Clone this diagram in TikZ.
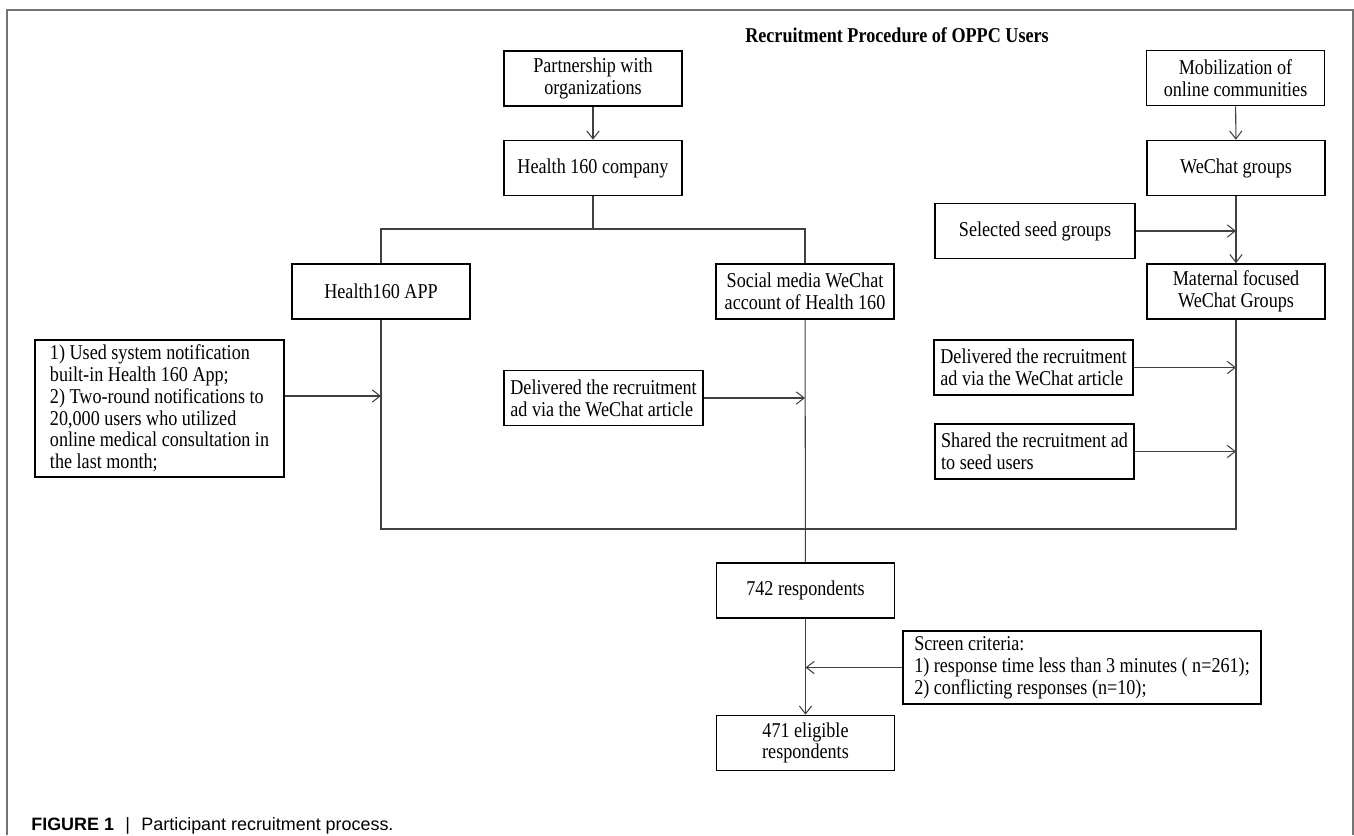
\documentclass[tikz,border=0pt]{standalone}
\usepackage{fontspec}
\setmainfont{Liberation Serif}[FakeStretch=0.86]
\setsansfont{Liberation Sans}
\usetikzlibrary{arrows.meta}

\begin{document}
\begin{tikzpicture}[x=0.02cm,y=-0.02cm,
  font=\fontsize{12}{12.4}\selectfont,
  box/.style={draw,line width=0.9pt,minimum width=3.56cm,minimum height=1.1cm,align=center,inner sep=2pt},
  widebox/.style={box,minimum width=4cm},
  note/.style={draw,line width=0.9pt,minimum height=1.1cm,align=left,inner xsep=3pt,inner ysep=3pt},
  link/.style={draw=black!75,line width=0.6pt},
  arr/.style={link,-{Straight Barb[length=4.5pt,width=7pt]}}]
	\useasboundingbox (0,0) rectangle (1354,835);
	\draw[black!55,line width=0.6pt] (7,835) -- (7,10) -- (1353,10) -- (1353,835);

	\node[font=\fontsize{12}{12.4}\selectfont\bfseries] (title) at (897,35) {Recruitment Procedure of OPPC Users};

	% company branch
	\node[box] (partner) at (593,78.5) {Partnership with\\organizations};
	\node[box] (company) at (593,168) {Health 160 company};
	\node[box] (app) at (381,291.5) {Health160 APP};
	\node[box] (social) at (805,291.5) {Social media WeChat\\account of Health 160};
	\node[note,minimum width=4.98cm] (notif) at (159.5,408.5) {1) Used system notification\\built-in Health 160 App;\\2) Two-round notifications to\\20,000 users who utilized\\online medical consultation in\\the last month;};
	\node[note,minimum width=3.98cm] (deliver) at (603.5,398) {Delivered the recruitment\\ad via the WeChat article};

	% community branch
	\node[box] (mobil) at (1235.5,78) {Mobilization of\\online communities};
	\node[box] (wechat) at (1236,168) {WeChat groups};
	\node[widebox] (seed) at (1035,231) {Selected seed groups};
	\node[box] (maternal) at (1236,291.5) {Maternal focused\\WeChat Groups};
	\node[note,minimum width=3.98cm] (article) at (1033.5,367.5) {Delivered the recruitment\\ad via the WeChat article};
	\node[note,minimum width=3.98cm] (share) at (1034.5,451.5) {Shared the recruitment ad\\to seed users};

	% respondents
	\node[box] (resp) at (805.5,590.5) {742 respondents};
	\node[note,minimum width=7.16cm] (screen) at (1082,667.5) {Screen criteria:\\1) response time less than 3 minutes ( n=261);\\2) conflicting responses (n=10);};
	\node[box] (elig) at (805.5,743) {471 eligible\\respondents};

	\coordinate (split) at (593,229);
	\coordinate (merge) at (805,529);
	\coordinate (appin) at (381,396);

	\draw[arr] (partner) -- (company);
	\draw[link] (company) -- (split);
	\draw[link] (split) -| (app);
	\draw[link] (split) -| (social);
	\draw[arr] (notif.east |- appin) -- (appin);
	\draw[arr] (deliver) -- (deliver -| social);

	\draw[arr] (mobil) -- (wechat);
	\draw[arr] (wechat) -- (maternal);
	\draw[arr] (seed) -- (seed -| wechat);
	\draw[arr] (article) -- (article -| maternal);
	\draw[arr] (share) -- (share -| maternal);

	\draw[link] (app) |- (merge);
	\draw[link] (maternal) |- (merge);
	\draw[link] (social) -- (resp);
	\draw[arr] (resp) -- (elig);
	\draw[arr] (screen) -- (screen -| resp);

	\node[anchor=west,inner sep=0pt,font=\sffamily\fontsize{10.2}{12}\selectfont] (caption) at (31,826) {{\bfseries FIGURE 1}\hspace{6.5pt}|\hspace{6.5pt}Participant recruitment process.};
\end{tikzpicture}
\end{document}
